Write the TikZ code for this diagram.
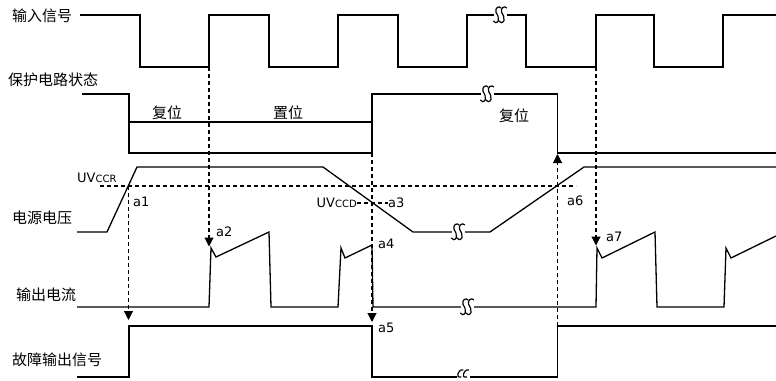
\documentclass[tikz,border=0pt]{standalone}
\usepackage{fontspec}
\setmainfont{DejaVu Sans}
\newfontfamily\cjk{Noto Sans CJK SC}
\usetikzlibrary{arrows.meta}
\begin{document}
\begin{tikzpicture}[x=1pt,y=-1pt,
  wave/.style={line width=1.3pt, line join=miter},
  guide/.style={line width=1.1pt, dash pattern=on 4pt off 3pt},
  garrow/.style={guide, -{Triangle[width=9pt,length=9pt]}},
  cn/.style={font=\cjk\fontsize{15}{18}\selectfont, inner sep=0pt, anchor=west},
  lt/.style={font=\fontsize{13}{15}\selectfont, inner sep=0pt, anchor=west},
  brk/.pic={\fill[white] (-6.5,-9) rectangle (6.5,9);
    \foreach \dx in {-2.8,2.8}{\draw[line width=1.2pt,shift={(\dx,0)}] (4,-7) .. controls (2,-9.5) and (-2.5,-7.5) .. (-1.2,-2.8) .. controls (0,0) and (2.2,2.2) .. (1.2,5.5) .. controls (0,8.5) and (-3,8) .. (-4,6);}},
  brkc/.pic={\fill[white] (-6.5,-9) rectangle (6.5,3);
    \foreach \dx in {-2.8,2.8}{\draw[line width=1.2pt,shift={(\dx,0)}] (3.2,-7) .. controls (0.5,-8.5) and (-3.2,-4.2) .. (-2.2,-0.5) .. controls (-1.6,0.5) and (0,0) .. (1.2,0);}}
]
\useasboundingbox (0,0) rectangle (776,380);

% labels
\node[cn] (inp) at (12,16) {输入信号};
\node[cn] (prot) at (8,80) {保护电路状态};
\node[cn, anchor=center] (rst1) at (167,113) {复位};
\node[cn, anchor=center] (setl) at (288,113) {置位};
\node[cn, anchor=center] (rst2) at (514,116) {复位};
\node[lt] (uvccr) at (77,178) {UV{\fontsize{10}{12}\selectfont CCR}};
\node[cn] (vsup) at (12,218) {电源电压};
\node[cn] (iout) at (16,295) {输出电流};
\node[cn] (fault) at (12,360) {故障输出信号};
\node[lt, anchor=east] (uvccd) at (357,203) {UV{\fontsize{10}{12}\selectfont CCD}};
\node[lt] (a1) at (133,202) {a1};
\node[lt] (a2) at (216,232) {a2};
\node[lt] (a3) at (388,203) {a3};
\node[lt] (a4) at (378,244) {a4};
\node[lt] (a5) at (378,328) {a5};
\node[lt] (a6) at (567,201) {a6};
\node[lt] (a7) at (606,237) {a7};

% input signal
\draw[wave] (80,15) -- (140,15) -- (140,67) -- (209,67) -- (209,15) -- (269,15) -- (269,67) -- (338,67) -- (338,15) -- (398,15) -- (398,67) -- (467,67) -- (467,15) -- (526,15) -- (526,67) -- (596,67) -- (596,15) -- (654,15) -- (654,67) -- (723,67) -- (723,15) -- (777,15);
\pic at (500,15) {brk};

% protection circuit state
\draw[wave] (82,94) -- (129,94) -- (129,153) -- (372,153) -- (372,94) -- (557.5,94) -- (557.5,153) -- (777,153);
\draw[wave] (129,122) -- (372,122);
\pic at (487,94) {brk};

% supply voltage
\draw[wave] (77,232) -- (107,232) -- (137,167) -- (323,167) -- (413,232) -- (490,232) -- (584,167) -- (777,167);
\pic at (458,232) {brk};
\draw[guide] (100,186) -- (576,186);
\draw[guide] (uvccd.east) -- (a3.west);

% output current
\draw[wave] (77,307) -- (209,307) -- (211,248) -- (216,257) -- (269,232) -- (271,307) -- (338,307) -- (341,248) -- (345,258) -- (372,245) -- (373,307) -- (596,307) -- (597,248) -- (602,258) -- (655,232) -- (657,307) -- (724,307) -- (726,248) -- (731,258) -- (777,235.5);
\pic at (467,307) {brk};

% fault output signal
\draw[wave] (77,377) -- (129,377) -- (129,326) -- (372,326) -- (372,377) -- (557.5,377) -- (557.5,326) -- (777,326);
\pic at (463,377) {brkc};

% guide arrows
\coordinate (p1) at (128.5,186);  \coordinate (q1) at (128.5,320);
\coordinate (p2) at (209,67);     \coordinate (q2) at (209,246.5);
\coordinate (p4) at (372,153);    \coordinate (q4) at (372,322);
\coordinate (p6) at (557.5,326);  \coordinate (q6) at (557.5,154);
\coordinate (p7) at (596,67);     \coordinate (q7) at (596,245.5);
\draw[garrow] (p1) -- (q1);
\draw[garrow] (p2) -- (q2);
\draw[garrow] (p4) -- (q4);
\draw[garrow] (p6) -- (q6);
\draw[garrow] (p7) -- (q7);
\end{tikzpicture}
\end{document}
